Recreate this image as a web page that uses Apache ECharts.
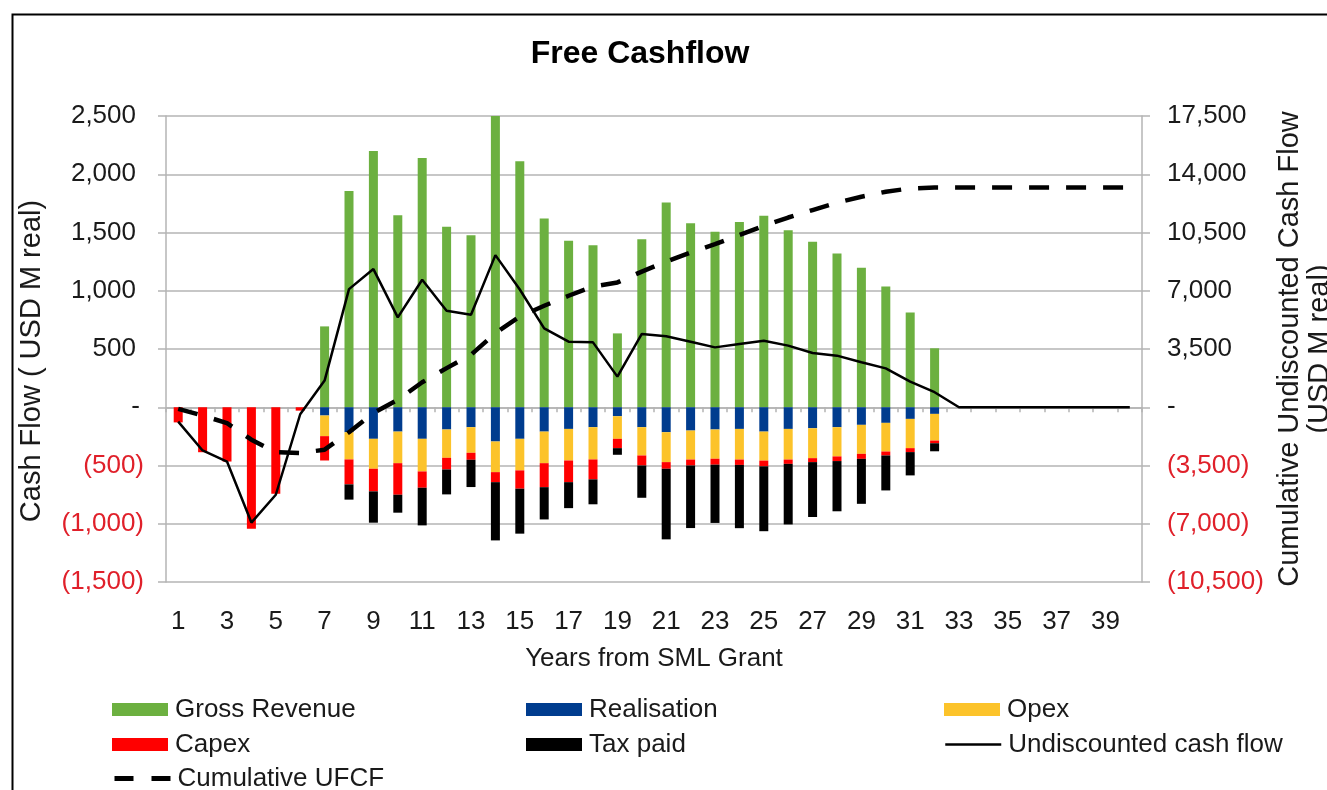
<!DOCTYPE html>
<html>
<head>
<meta charset="utf-8">
<script src="https://cdn.jsdelivr.net/npm/echarts@6/dist/echarts.min.js"></script>
<style>
html,body{margin:0;padding:0;background:#fff;overflow:hidden;}
#chart{width:1327px;height:790px;}
</style>
</head>
<body>
<div id="chart"></div>
<script>
const years = ['1','2','3','4','5','6','7','8','9','10','11','12','13','14','15','16','17','18','19','20',
  '21','22','23','24','25','26','27','28','29','30','31','32','33','34','35','36','37','38','39','40'];

const grossRevenue = [0,0,0,0,0,0,694,1857,2200,1649,2140,1549,1477,2500,2111,1620,1429,1391,634,1443,
  1757,1580,1506,1591,1643,1520,1420,1320,1197,1037,814,506,0,0,0,0,0,0,0,0];
const realisation = [0,0,0,0,0,0,-71,-214,-271,-209,-271,-191,-171,-294,-271,-209,-186,-171,-77,-171,
  -214,-200,-191,-186,-209,-186,-180,-171,-151,-134,-100,-57,0,0,0,0,0,0,0,0];
const opex = [0,0,0,0,0,0,-177,-234,-257,-271,-280,-243,-220,-263,-271,-271,-271,-277,-194,-243,
  -257,-249,-251,-263,-249,-263,-257,-251,-249,-246,-251,-229,0,0,0,0,0,0,0,0];
const capex = [-130,-386,-466,-1043,-743,-29,-209,-214,-194,-271,-140,-100,-60,-86,-157,-206,-186,-171,-80,-86,
  -57,-51,-51,-46,-49,-37,-34,-40,-43,-34,-34,-23,0,0,0,0,0,0,0,0];
const taxPaid = [0,0,0,0,0,0,0,-131,-269,-154,-323,-214,-234,-500,-386,-277,-223,-214,-57,-277,
  -606,-537,-500,-543,-557,-520,-471,-431,-386,-300,-200,-69,0,0,0,0,0,0,0,0];
const undiscountedCF = [-123,-371,-466,-990,-751,-60,229,1014,1186,771,1094,829,794,1306,1011,677,563,557,263,629,
  609,563,514,543,571,529,466,443,386,334,220,129,0,0,0,0,0,0,0,0];
const cumulativeUFCF = [-100,-500,-950,-1950,-2700,-2750,-2550,-1500,-350,450,1500,2350,3150,4450,5450,6100,6700,7250,7500,8150,
  8750,9300,9800,10350,10900,11400,11850,12300,12650,12950,13150,13200,13200,13200,13200,13200,13200,13200,13200,13200];

const FONT = 'Liberation Sans, Arial, sans-serif';
const TXT = '#1a1a1a';
const NEG = '#e0202a';
const GRID = '#b4b4b4';

function fmt(v){ return Math.abs(v).toLocaleString('en-US'); }

function legendItem(left, top, item) {
  return {
    left: left, top: top, orient: 'horizontal', padding: 0,
    itemWidth: 56, itemHeight: 13, selectedMode: false,
    textStyle: { fontFamily: FONT, fontSize: 26, color: TXT, lineHeight: 25, padding: [0, 0, 0, 2] },
    data: [item]
  };
}
const hideSym = { color: 'transparent', borderColor: 'transparent', borderWidth: 0, opacity: 0 };

const chart = echarts.init(document.getElementById('chart'));
const option = {
  animation: false,
  backgroundColor: '#fff',
  textStyle: { fontFamily: FONT },
  graphic: [{
    type: 'rect', left: 10, top: 12, silent: true,
    shape: { x: 0, y: 0, width: 1400, height: 900 },
    style: { fill: 'none', stroke: '#000', lineWidth: 2 }
  }],
  title: {
    text: 'Free Cashflow', left: 635, top: 33, textAlign: 'center',
    textStyle: { fontFamily: FONT, fontSize: 32, fontWeight: 'bold', color: '#000' }
  },
  grid: { left: 166, right: 185, top: 116, bottom: 208, containLabel: false, outerBoundsMode: 'none' },
  legend: [
    legendItem(112, 696.5, { name: 'Gross Revenue', icon: 'rect' }),
    legendItem(112, 731.5, { name: 'Capex', icon: 'rect' }),
    legendItem(112, 765.5, { name: 'Cumulative UFCF', itemStyle: hideSym, lineStyle: { width: 5, type: [19, 18], color: '#000' } }),
    legendItem(526, 696.5, { name: 'Realisation', icon: 'rect' }),
    legendItem(526, 731.5, { name: 'Tax paid', icon: 'rect' }),
    legendItem(944, 696.5, { name: 'Opex', icon: 'rect' }),
    legendItem(944, 731.5, { name: 'Undiscounted cash flow', itemStyle: hideSym, lineStyle: { width: 2.5, color: '#000' } })
  ],
  xAxis: [
    {
      type: 'category', data: years, position: 'bottom',
      axisLine: { show: false, onZero: false }, axisTick: { show: false },
      axisLabel: { interval: 1, fontSize: 26, color: TXT, margin: 27, fontFamily: FONT },
      name: 'Years from SML Grant', nameLocation: 'middle', nameGap: 64,
      nameTextStyle: { fontSize: 26, color: TXT, fontFamily: FONT }
    },
    {
      type: 'category', data: years, position: 'bottom',
      axisLine: { show: true, onZero: true, onZeroAxisIndex: 0, lineStyle: { color: GRID, width: 1.5 } },
      axisTick: { show: true, interval: 0, length: 5, lineStyle: { color: GRID, width: 1.5 } },
      axisLabel: { show: false }
    }
  ],
  yAxis: [
    {
      type: 'value', min: -1500, max: 2500, interval: 500, position: 'left',
      axisLine: { show: true, lineStyle: { color: GRID, width: 1.5 } },
      axisTick: { show: true, length: 8, lineStyle: { color: GRID, width: 1.5 } },
      splitLine: { show: true, lineStyle: { color: GRID, width: 1.5 } },
      axisLabel: {
        fontSize: 26, margin: 22, fontFamily: FONT,
        color: function (v) { return v < 0 ? NEG : TXT; },
        formatter: function (v) {
          if (v < 0) return '(' + fmt(v) + ')';
          if (v === 0) return '-{z|}';
          return fmt(v) + '{p|}';
        },
        rich: { p: { width: 8 }, z: { width: 4 } }
      },
      name: 'Cash Flow ( USD M real)', nameLocation: 'middle', nameGap: 120, nameRotate: 90,
      nameTextStyle: { fontSize: 29, color: TXT, fontFamily: FONT, padding: [0, 24, 0, 0] }
    },
    {
      type: 'value', min: -10500, max: 17500, interval: 3500, position: 'right',
      axisLine: { show: true, lineStyle: { color: GRID, width: 1.5 } },
      axisTick: { show: true, length: 8, lineStyle: { color: GRID, width: 1.5 } },
      splitLine: { show: false },
      axisLabel: {
        fontSize: 26, margin: 25, fontFamily: FONT,
        color: function (v) { return v < 0 ? NEG : TXT; },
        formatter: function (v) {
          if (v < 0) return '(' + fmt(v) + ')';
          if (v === 0) return '-';
          return fmt(v);
        }
      },
      name: 'Cumulative Undiscounted Cash Flow\n(USD M real)', nameLocation: 'middle', nameGap: 132, nameRotate: 90,
      nameTextStyle: { fontSize: 29, color: TXT, fontFamily: FONT, lineHeight: 30 }
    }
  ],
  series: [
    { name: 'Gross Revenue', type: 'bar', stack: 'cf', barWidth: 9, data: grossRevenue, itemStyle: { color: '#6cb040' } },
    { name: 'Realisation', type: 'bar', stack: 'cf', barWidth: 9, data: realisation, itemStyle: { color: '#003c8e' } },
    { name: 'Opex', type: 'bar', stack: 'cf', barWidth: 9, data: opex, itemStyle: { color: '#fcc32a' } },
    { name: 'Capex', type: 'bar', stack: 'cf', barWidth: 9, data: capex, itemStyle: { color: '#ff0000' } },
    { name: 'Tax paid', type: 'bar', stack: 'cf', barWidth: 9, data: taxPaid, itemStyle: { color: '#000000' } },
    { name: 'Undiscounted cash flow', type: 'line', data: undiscountedCF, symbol: 'none',
      lineStyle: { color: '#000', width: 2.5 }, itemStyle: { color: '#000' }, z: 5 },
    { name: 'Cumulative UFCF', type: 'line', yAxisIndex: 1, data: cumulativeUFCF, symbol: 'none',
      lineStyle: { color: '#000', width: 4.5, type: [20, 17] }, itemStyle: { color: '#000' }, z: 6 }
  ]
};
chart.setOption(option);
</script>
</body>
</html>
